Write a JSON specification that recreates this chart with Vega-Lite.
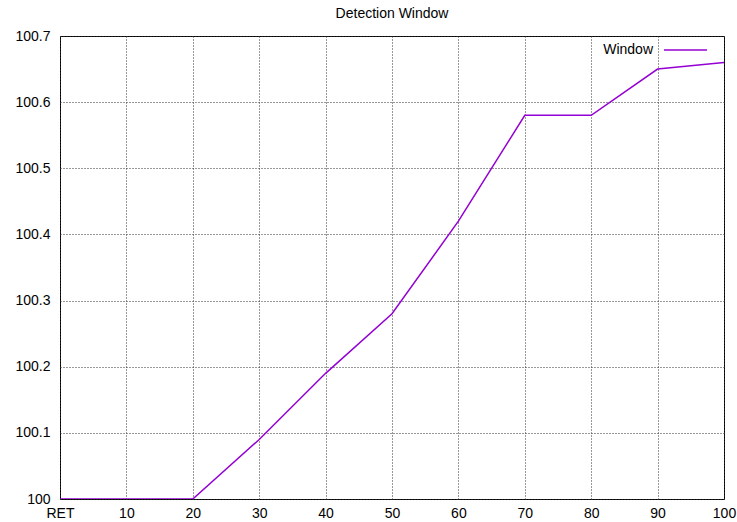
{
  "$schema": "https://vega.github.io/schema/vega-lite/v6.json",
  "width": 664,
  "height": 463,
  "autosize": "none",
  "padding": {"left": 60, "top": 36, "right": 13, "bottom": 23},
  "background": "white",
  "title": {"text": "Detection Window", "fontSize": 14, "fontWeight": "normal", "font": "Liberation Sans", "color": "black", "offset": 7, "anchor": "middle"},
  "config": {
    "view": {"stroke": "black", "strokeWidth": 1},
    "axis": {"labelFont": "Liberation Sans", "labelFontSize": 14, "labelColor": "black", "domain": false, "ticks": false, "grid": true, "gridColor": "#333333", "gridDash": [1, 2], "gridWidth": 1, "title": null}
  },
  "data": {
    "values": [
      {"x": 0, "y": 100, "series": "Window"},
      {"x": 10, "y": 100, "series": "Window"},
      {"x": 20, "y": 100, "series": "Window"},
      {"x": 30, "y": 100.09, "series": "Window"},
      {"x": 40, "y": 100.19, "series": "Window"},
      {"x": 50, "y": 100.28, "series": "Window"},
      {"x": 60, "y": 100.42, "series": "Window"},
      {"x": 70, "y": 100.58, "series": "Window"},
      {"x": 80, "y": 100.58, "series": "Window"},
      {"x": 90, "y": 100.65, "series": "Window"},
      {"x": 100, "y": 100.66, "series": "Window"}
    ]
  },
  "mark": {"type": "line", "strokeWidth": 1.5, "clip": true},
  "encoding": {
    "x": {"field": "x", "type": "quantitative", "scale": {"domain": [0, 100], "nice": false},
      "axis": {"values": [0, 10, 20, 30, 40, 50, 60, 70, 80, 90, 100], "labelExpr": "datum.value == 0 ? 'RET' : datum.label", "labelPadding": 7, "labelFlush": false, "labelOverlap": false}},
    "y": {"field": "y", "type": "quantitative", "scale": {"domain": [100, 100.7], "nice": false, "zero": false},
      "axis": {"values": [100, 100.1, 100.2, 100.3, 100.4, 100.5, 100.6, 100.7], "format": "~f", "labelPadding": 10, "labelFlush": false, "labelOverlap": false}},
    "color": {"field": "series", "type": "nominal", "scale": {"range": ["#9400D3"]},
      "legend": {"orient": "none", "legendX": 603, "legendY": -8.5, "padding": 0, "title": null, "labelFont": "Liberation Sans", "labelFontSize": 14, "labelColor": "black", "labelAlign": "right", "labelOffset": -55, "symbolType": "stroke", "symbolSize": 1850, "symbolStrokeWidth": 1.5}}
  }
}
